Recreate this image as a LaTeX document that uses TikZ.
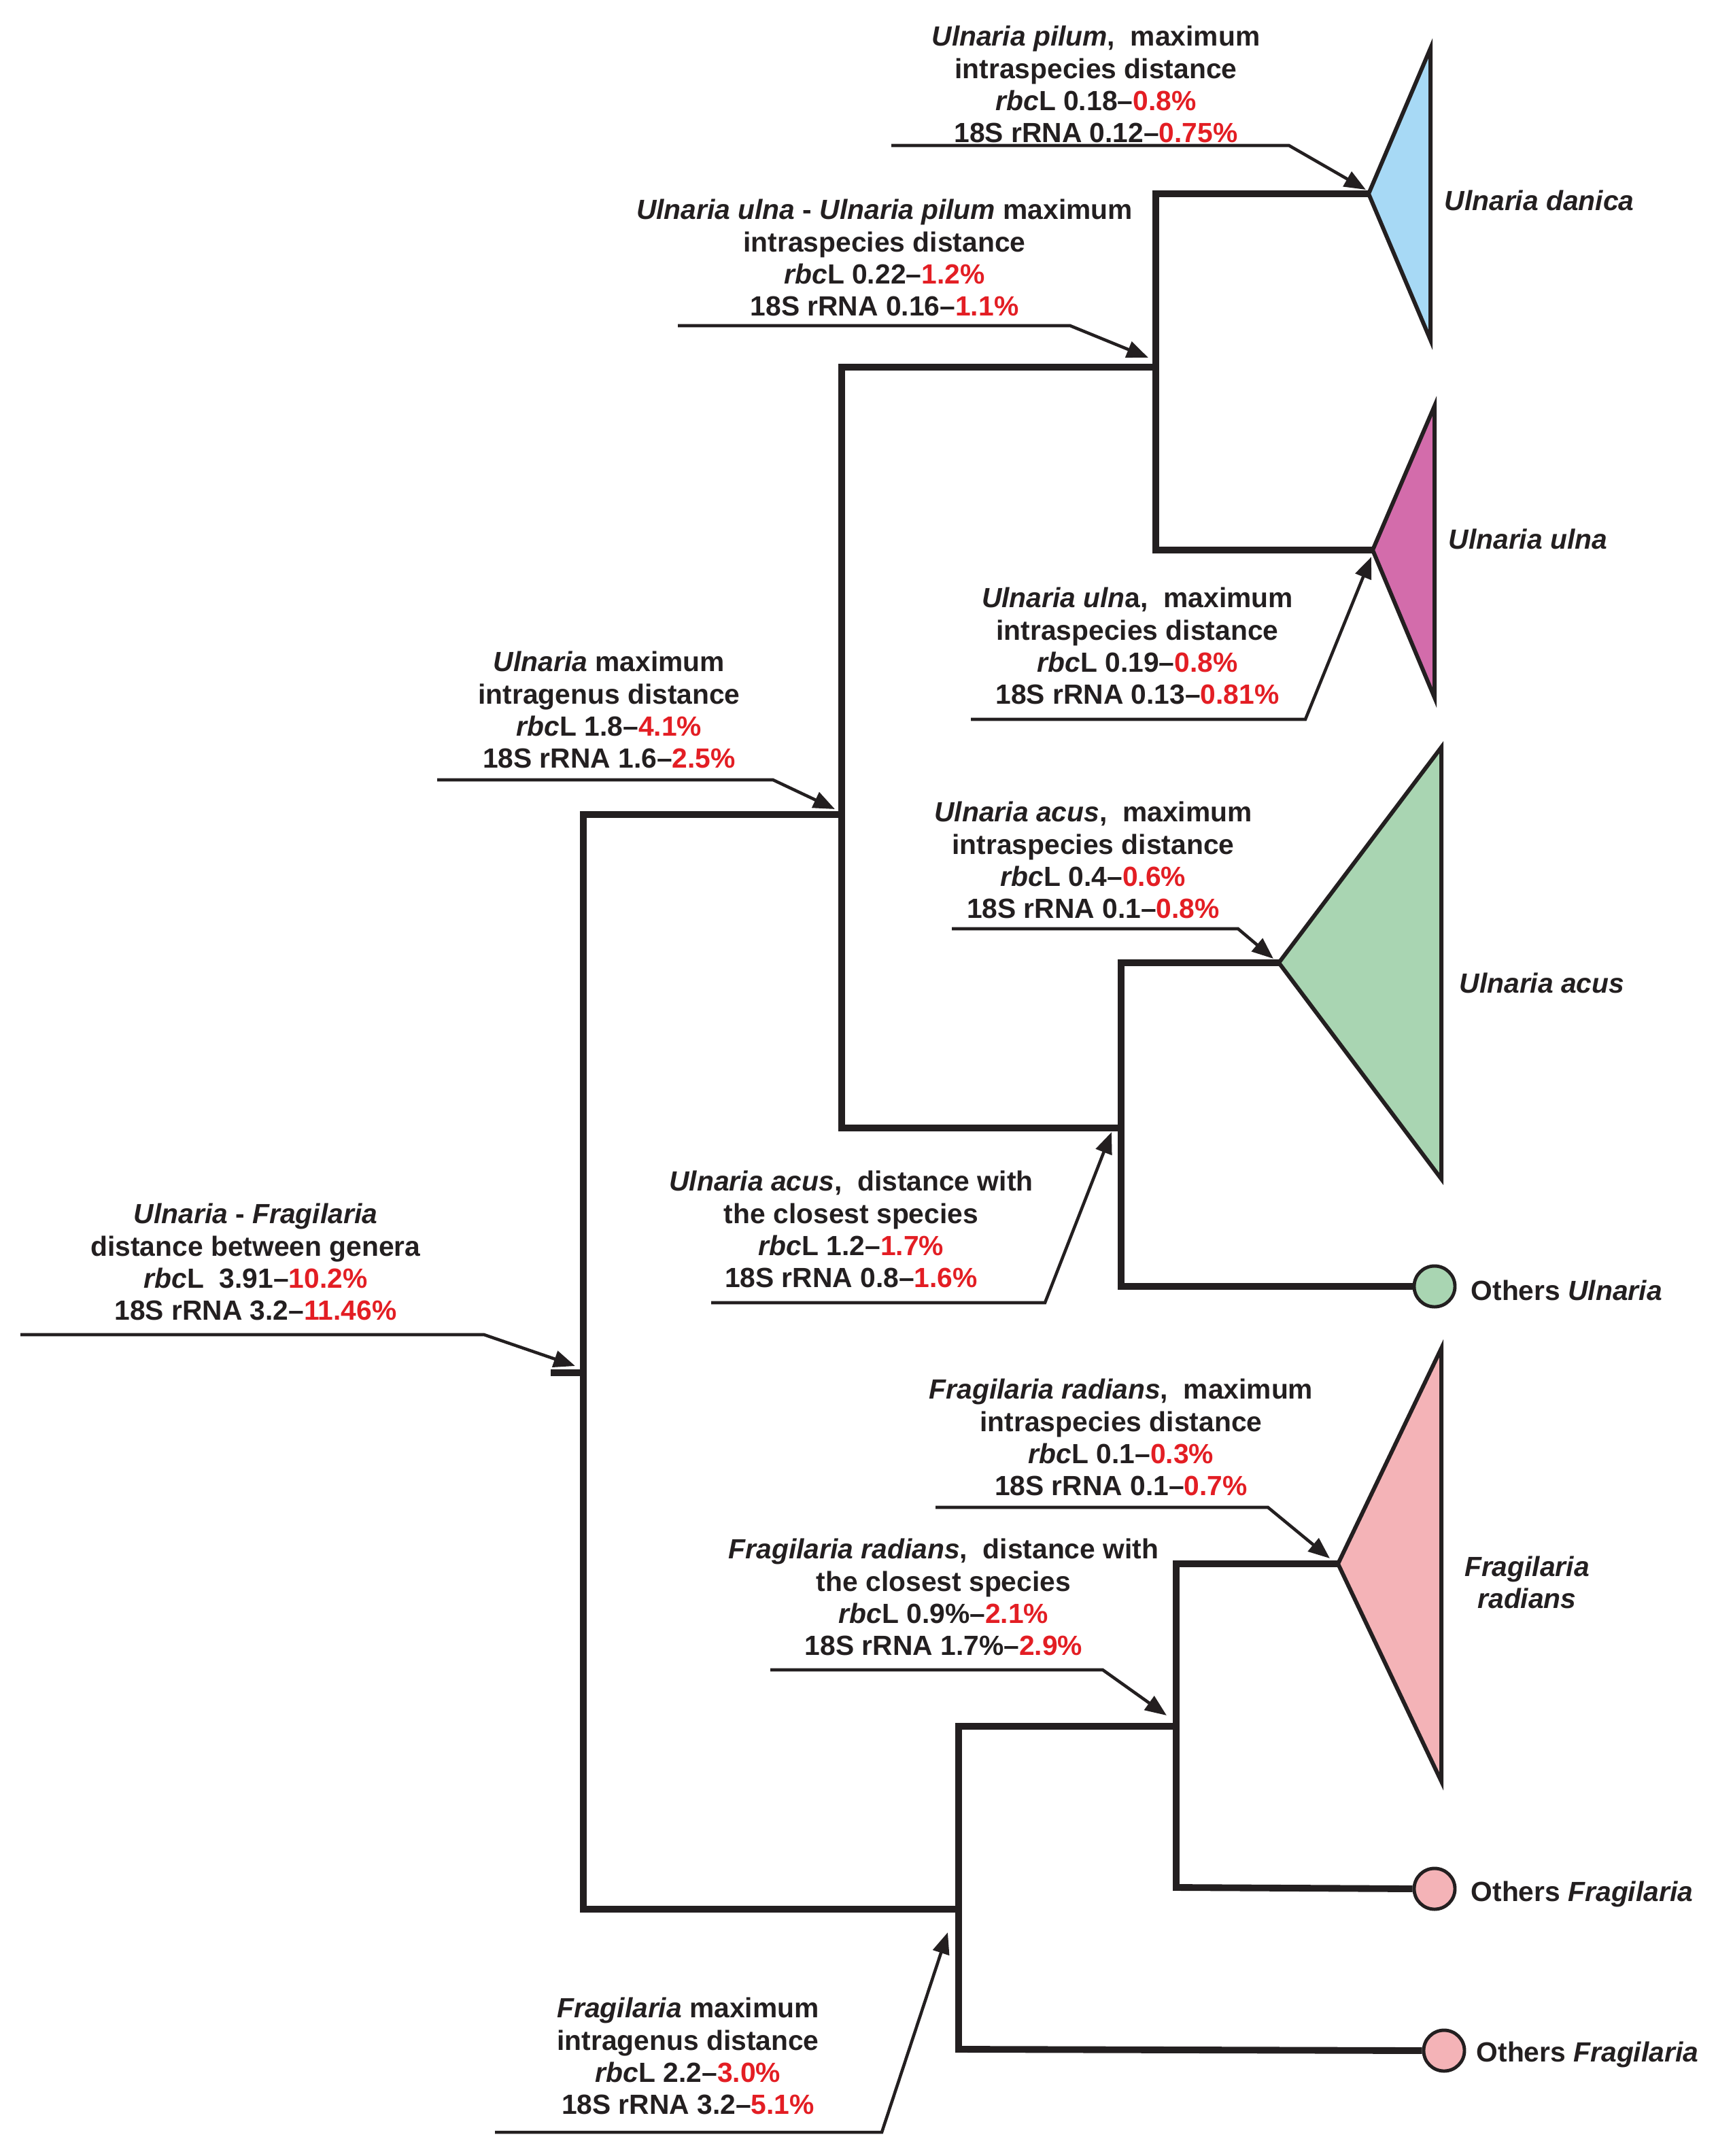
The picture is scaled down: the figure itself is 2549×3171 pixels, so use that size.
\documentclass[tikz,border=0pt]{standalone}
\usepackage{fontspec}
\setmainfont{Liberation Sans}
\usetikzlibrary{arrows.meta}
\definecolor{ink}{HTML}{231F20}
\definecolor{rd}{HTML}{E31E24}
\definecolor{cblue}{HTML}{A7D9F5}
\definecolor{cmag}{HTML}{D36CAB}
\definecolor{cgreen}{HTML}{A9D5B2}
\definecolor{cpink}{HTML}{F4B3B7}
\newcommand{\rr}[1]{\textcolor{rd}{#1}}
\begin{document}
\begin{tikzpicture}[x=0.01cm,y=-0.01cm,
  tree/.style={line width=2.8pt, draw=ink, line join=miter, line cap=butt},
  clade/.style={line width=1.7pt, draw=ink, line join=miter},
  lead/.style={line width=1.3pt, draw=ink, line join=miter, -{Triangle[length=9pt,width=7pt]}},
  ann/.style={align=center, text=ink, inner sep=0pt, font=\bfseries\fontsize{11.6}{13.4}\selectfont},
  lab/.style={anchor=west, text=ink, inner sep=0pt, font=\bfseries\fontsize{11.6}{13.4}\selectfont},
  tip/.style={circle, draw=ink, line width=1.4pt, minimum size=0.6cm, inner sep=0pt}]
\useasboundingbox (0,0) rectangle (2549,3171);
% tree coordinates
\coordinate (root) at (858,2019);
\coordinate (rootS) at (810,2019);
\coordinate (rootT) at (858,1198);
\coordinate (rootB) at (858,2808);
\coordinate (nU) at (1238,1198);
\coordinate (nUT) at (1238,540);
\coordinate (nUB) at (1238,1659);
\coordinate (nP) at (1700,540);
\coordinate (nPT) at (1700,285);
\coordinate (nPB) at (1700,809);
\coordinate (nA) at (1649,1659);
\coordinate (nAT) at (1649,1416);
\coordinate (nAB) at (1649,1892);
\coordinate (nF) at (1410,2808);
\coordinate (nFT) at (1410,2539);
\coordinate (nFB) at (1410,3014);
\coordinate (nR) at (1730,2539);
\coordinate (nRT) at (1730,2300);
\coordinate (nRB) at (1730,2776);
\coordinate (aDan) at (2013,285);
\coordinate (aUln) at (2019,809);
\coordinate (aAcu) at (1881,1416);
\coordinate (aRad) at (1968,2300);
% tips
\node[tip, fill=cgreen] (oU) at (2110,1892) {};
\node[tip, fill=cpink] (oF1) at (2110,2778) {};
\node[tip, fill=cpink] (oF2) at (2124,3016) {};
% clades
\draw[clade, fill=cblue] (aDan) -- (2104,71) -- (2104,500) -- cycle;
\draw[clade, fill=cmag] (aUln) -- (2110,597) -- (2110,1026) -- cycle;
\draw[clade, fill=cgreen] (aAcu) -- (2120,1099) -- (2120,1734) -- cycle;
\draw[clade, fill=cpink] (aRad) -- (2120,1983) -- (2120,2620) -- cycle;
% branches
\draw[tree] (nU) -- (rootT) -- (rootB) -- (nF);
\draw[tree] (rootS) -- (root);
\draw[tree] (nP) -- (nUT) -- (nUB) -- (nA);
\draw[tree] (aDan) -- (nPT) -- (nPB) -- (aUln);
\draw[tree] (aAcu) -- (nAT) -- (nAB) -- (oU.west);
\draw[tree] (nR) -- (nFT) -- (nFB) -- (oF2.west);
\draw[tree] (aRad) -- (nRT) -- (nRB) -- (oF1.west);
% labels
\node[lab] (lDan) at (2124,295) {\textit{Ulnaria danica}};
\node[lab] (lUln) at (2130,793) {\textit{Ulnaria ulna}};
\node[lab] (lAcu) at (2146,1446) {\textit{Ulnaria acus}};
\node[lab] (lOU) at (2163,1898) {Others \textit{Ulnaria}};
\node[ann] (lRad) at (2246,2327) {\textit{Fragilaria}\\\textit{radians}};
\node[lab] (lOF1) at (2163,2786) {Others \textit{Fragilaria}};
\node[lab] (lOF2) at (2171,3022) {Others \textit{Fragilaria}};
% annotations
\node[ann] (t1) at (1612,124) {\textit{Ulnaria pilum},\ \ maximum\\intraspecies distance\\\textit{rbc}L 0.18–\rr{0.8\%}\\18S rRNA 0.12–\rr{0.75\%}};
\node[ann] (t2) at (1301,379) {\textit{Ulnaria ulna} - \textit{Ulnaria pilum} maximum\\intraspecies distance\\\textit{rbc}L 0.22–\rr{1.2\%}\\18S rRNA 0.16–\rr{1.1\%}};
\node[ann] (t3) at (1673,950) {\textit{Ulnaria uln}a,\ \ maximum\\intraspecies distance\\\textit{rbc}L 0.19–\rr{0.8\%}\\18S rRNA 0.13–\rr{0.81\%}};
\node[ann] (t4) at (896,1044) {\textit{Ulnaria} maximum\\intragenus distance\\\textit{rbc}L 1.8–\rr{4.1\%}\\18S rRNA 1.6–\rr{2.5\%}};
\node[ann] (t5) at (1608,1265) {\textit{Ulnaria acus},\ \ maximum\\intraspecies distance\\\textit{rbc}L 0.4–\rr{0.6\%}\\18S rRNA 0.1–\rr{0.8\%}};
\node[ann] (t6) at (1252,1808) {\textit{Ulnaria acus},\ \ distance with\\the closest species\\\textit{rbc}L 1.2–\rr{1.7\%}\\18S rRNA 0.8–\rr{1.6\%}};
\node[ann] (t7) at (376,1856) {\textit{Ulnaria} - \textit{Fragilaria}\\distance between genera\\\textit{rbc}L\ \ 3.91–\rr{10.2\%}\\18S rRNA 3.2–\rr{11.46\%}};
\node[ann] (t8) at (1649,2114) {\textit{Fragilaria radians},\ \ maximum\\intraspecies distance\\\textit{rbc}L 0.1–\rr{0.3\%}\\18S rRNA 0.1–\rr{0.7\%}};
\node[ann] (t9) at (1388,2349) {\textit{Fragilaria radians},\ \ distance with\\the closest species\\\textit{rbc}L 0.9\%–\rr{2.1\%}\\18S rRNA 1.7\%–\rr{2.9\%}};
\node[ann] (t10) at (1012,3024) {\textit{Fragilaria} maximum\\intragenus distance\\\textit{rbc}L 2.2–\rr{3.0\%}\\18S rRNA 3.2–\rr{5.1\%}};
% leader lines
\coordinate (e1) at (2009,279);
\coordinate (e2) at (1689,526);
\coordinate (e3) at (2017,819);
\coordinate (e4) at (1228,1190);
\coordinate (e5) at (1873,1410);
\coordinate (e6) at (1635,1665);
\coordinate (e7) at (846,2009);
\coordinate (e8) at (1956,2292);
\coordinate (e9) at (1716,2523);
\coordinate (e10) at (1394,2842);
\draw[lead] (1311,214) -- (1896,214) -- (e1);
\draw[lead] (997,479) -- (1574,479) -- (e2);
\draw[lead] (1428,1058) -- (1920,1058) -- (e3);
\draw[lead] (643,1147) -- (1137,1147) -- (e4);
\draw[lead] (1400,1366) -- (1821,1366) -- (e5);
\draw[lead] (1046,1916) -- (1537,1916) -- (e6);
\draw[lead] (30,1963) -- (712,1963) -- (e7);
\draw[lead] (1376,2217) -- (1865,2217) -- (e8);
\draw[lead] (1133,2456) -- (1622,2456) -- (e9);
\draw[lead] (728,3136) -- (1297,3136) -- (e10);
\end{tikzpicture}
\end{document}
